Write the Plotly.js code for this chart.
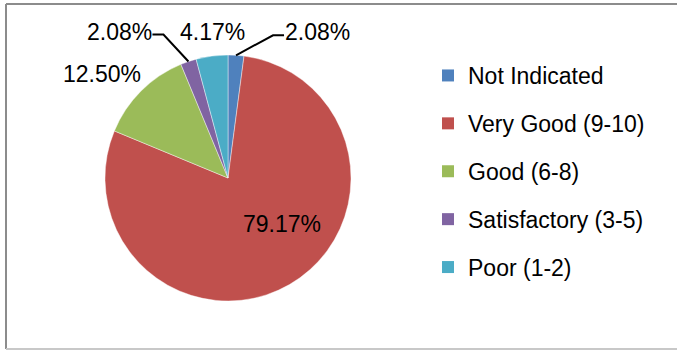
<!DOCTYPE html>
<html><head><meta charset="utf-8">
<script src="https://cdn.plot.ly/plotly-3.0.1.min.js"></script>
<style>html,body{margin:0;padding:0;background:#fff;}#chart{width:677px;height:350px;}</style>
</head><body><div id="chart"></div>
<script>
// ---- data ----
const categories = ['Not Indicated', 'Very Good (9-10)', 'Good (6-8)', 'Satisfactory (3-5)', 'Poor (1-2)'];
const percents = [2.08, 79.17, 12.50, 2.08, 4.17];
const colors = ['#4F81BD', '#C0504D', '#9BBB59', '#8064A2', '#4BACC6'];

// ---- layout constants (style/position) ----
const W = 677, H = 350;
const CX = 228, CY = 178, R = 123;
const FONT = 'Liberation Sans, Arial, sans-serif';
const FS = 23;
// label offsets relative to slice edge midpoint (px)
const labelOffset = [[81, -23], [-8, -61], [-39, -17], [-69, -30], [1, -24]];
const leader = [true, false, false, true, false];

const px = x => x / W, py = y => 1 - y / H;

// pie
const total = percents.reduce((a, b) => a + b, 0);
const pie = {
  type: 'pie', labels: categories, values: percents, sort: false, direction: 'clockwise', rotation: 0,
  marker: {colors: colors, line: {color: 'rgba(255,255,255,0.6)', width: 0.7}},
  textinfo: 'none',
  domain: {x: [px(CX - R), px(CX + R)], y: [py(CY + R), py(CY - R)]},
  showlegend: false, hoverinfo: 'label+percent'
};

// legend proxies
const legendTraces = categories.map((c, i) => ({
  type: 'scatter', mode: 'markers', x: [null], y: [null], name: c, legendgroup: 'g' + i,
  marker: {symbol: 'square', size: 12, color: colors[i]}, showlegend: true, hoverinfo: 'skip'
}));

// labels + leader lines
const annotations = [], shapes = [];
let cum = 0;
percents.forEach((v, i) => {
  const mid = (cum + v / 2) / total * 2 * Math.PI;
  cum += v;
  const ax = CX + R * Math.sin(mid), ay = CY - R * Math.cos(mid);
  const tx = ax + labelOffset[i][0], ty = ay + labelOffset[i][1];
  const txt = v.toFixed(2) + '%';
  annotations.push({xref: 'paper', yref: 'paper', x: px(tx), y: py(ty), text: txt, showarrow: false,
    xanchor: 'center', yanchor: 'middle', font: {family: FONT, size: FS, color: '#000'}});
  if (leader[i]) {
    const halfW = 33;
    const side = Math.sign(labelOffset[i][0]);
    const endX = tx - side * halfW, ly = ty + 3;
    const elbowX = endX - side * 11;
    shapes.push({type: 'path', xref: 'paper', yref: 'paper',
      path: `M ${px(ax)} ${py(ay)} L ${px(elbowX)} ${py(ly)} L ${px(endX)} ${py(ly)}`,
      line: {color: '#000', width: 2}});
  }
});

// frame
const frame = {color: '#8c8c8c', width: 2};
shapes.push({type: 'line', xref: 'paper', yref: 'paper', x0: px(6), x1: 1, y0: py(4), y1: py(4), line: frame});
shapes.push({type: 'line', xref: 'paper', yref: 'paper', x0: px(6), x1: px(6), y0: py(4), y1: py(349), line: frame});
shapes.push({type: 'line', xref: 'paper', yref: 'paper', x0: px(6), x1: 1, y0: py(349), y1: py(349), line: {color: '#c8c8c8', width: 2}});

const layout = {
  width: W, height: H, margin: {l: 0, r: 0, t: 0, b: 0},
  paper_bgcolor: '#fff', plot_bgcolor: 'rgba(0,0,0,0)',
  xaxis: {visible: false, domain: [0.99, 1]}, yaxis: {visible: false, domain: [0.99, 1]},
  showlegend: true,
  legend: {x: px(428), y: py(54), xanchor: 'left', yanchor: 'top', tracegroupgap: 15,
    font: {family: FONT, size: FS, color: '#000'}, bgcolor: 'rgba(0,0,0,0)'},
  annotations: annotations, shapes: shapes
};

Plotly.newPlot('chart', [pie, ...legendTraces], layout, {staticPlot: true});
</script></body></html>
